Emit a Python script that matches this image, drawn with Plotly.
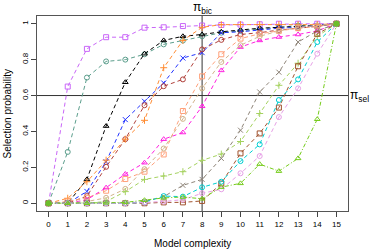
import plotly.graph_objects as go

complexity = list(range(16))
x_ticks = list(range(16))
y_ticks = [0, 0.2, 0.4, 0.6, 0.8, 1]
y_tick_text = ["0", "0.2", "0.4", "0.6", "0.8", "1"]

pi_sel = 0.6
pi_bic = 8

violet_sq = [0, 0.65, 0.86, 0.925, 0.925, 0.978, 0.98, 0.987, 0.99, 0.993, 0.995, 0.997, 1, 1, 1, 1]
teal_circ = [0, 0.286, 0.70, 0.79, 0.80, 0.83, 0.885, 0.906, 0.93, 0.95, 0.96, 0.97, 0.98, 0.99, 0.99, 1]
black_tri = [0, 0, 0.133, 0.43, 0.674, 0.833, 0.907, 0.93, 0.94, 0.955, 0.965, 0.975, 0.98, 0.985, 0.99, 1]
blue_x = [0, 0, 0.066, 0.231, 0.466, 0.568, 0.67, 0.809, 0.839, 0.95, 0.955, 0.965, 0.975, 0.98, 0.99, 1]
brown_circ = [0, 0, 0.04, 0.203, 0.357, 0.546, 0.652, 0.69, 0.857, 0.91, 0.94, 0.95, 0.965, 0.975, 0.985, 1]
orange_plus = [0, 0.028, 0.12, 0.24, 0.357, 0.462, 0.755, 0.907, 0.98, 0.995, 0.995, 0.995, 0.995, 0.995, 0.995, 1]
salmon_sq = [0, 0.01, 0.03, 0.07, 0.135, 0.176, 0.272, 0.514, 0.707, 0.83, 0.917, 0.944, 0.96, 0.975, 0.985, 1]
magenta_tri = [0, 0, 0.02, 0.087, 0.163, 0.226, 0.357, 0.394, 0.54, 0.74, 0.87, 0.907, 0.926, 0.94, 0.96, 1]
tan_circ = [0, 0, 0.01, 0.03, 0.08, 0.19, 0.305, 0.47, 0.64, 0.787, 0.88, 0.93, 0.96, 0.98, 0.99, 1]
yg_plus = [0, 0, 0, 0.01, 0.065, 0.133, 0.152, 0.176, 0.239, 0.274, 0.344, 0.50, 0.657, 0.78, 0.93, 1]
gray_x = [0, 0, 0, 0, 0, 0.01, 0.037, 0.1, 0.133, 0.25, 0.407, 0.62, 0.73, 0.898, 0.96, 1]
sienna_sq = [0, 0, 0, 0, 0, 0, 0.005, 0.005, 0.013, 0.11, 0.278, 0.389, 0.533, 0.763, 0.944, 1]
cyan_circ = [0, 0, 0, 0, 0, 0.005, 0.04, 0.037, 0.089, 0.12, 0.235, 0.328, 0.575, 0.69, 0.898, 1]
plum_circ = [0, 0, 0, 0, 0, 0.005, 0.01, 0.02, 0.056, 0.078, 0.167, 0.263, 0.48, 0.64, 0.833, 1]
green_tri = [0, 0, 0, 0.003, 0.005, 0.017, 0.03, 0.035, 0.025, 0.09, 0.111, 0.218, 0.179, 0.25, 0.468, 1]
end_x = [0, 15]
end_y = [0, 1]

series = [
    (violet_sq, "#C966F8", "square-open", "4px,3px"),
    (teal_circ, "#5B9E8C", "circle-open", "4px,3px"),
    (black_tri, "#000000", "triangle-up-open", "4px,3px"),
    (blue_x, "#2233FF", "x-thin-open", "4px,3px"),
    (brown_circ, "#B0403A", "circle-open", "4px,3px"),
    (orange_plus, "#FF8C33", "cross-thin-open", "4px,3px"),
    (salmon_sq, "#FFA07A", "square-open", "4px,3px"),
    (magenta_tri, "#FF1FE0", "triangle-up-open", "4px,3px"),
    (tan_circ, "#D2B48C", "circle-open", "4px,3px"),
    (yg_plus, "#A5D260", "cross-thin-open", "4px,3px"),
    (gray_x, "#8E8478", "x-thin-open", "4px,3px"),
    (sienna_sq, "#A0522D", "square-open", "4px,3px"),
    (cyan_circ, "#00CED1", "circle-open", "4px,3px"),
    (plum_circ, "#E6A0E6", "circle-open", "4px,3px"),
    (green_tri, "#76CC1C", "triangle-up-open", "4px,2px,1px,2px"),
]

fig = go.Figure()
for vals, col, sym, dash in series:
    fig.add_trace(go.Scatter(
        x=complexity, y=vals, mode="lines+markers",
        line=dict(color=col, width=1, dash=dash),
        marker=dict(symbol=sym, size=5, color=col, line=dict(color=col, width=1)),
        showlegend=False, hoverinfo="skip"))

fig.add_trace(go.Scatter(
    x=end_x, y=end_y, mode="markers",
    marker=dict(symbol="circle", size=6, color="#6DBE2A"),
    showlegend=False, hoverinfo="skip"))

fig.add_hline(y=pi_sel, line=dict(color="#333333", width=1), layer="below")
fig.add_vline(x=pi_bic, line=dict(color="#333333", width=1), layer="below")

fig.add_annotation(x=pi_bic, y=1, yref="paper", yanchor="bottom", xanchor="center",
                   text="π<sub>bic</sub>", showarrow=False, yshift=-2,
                   font=dict(size=12, color="#000000", family="Liberation Sans"))
fig.add_annotation(x=1, xref="paper", y=pi_sel, xanchor="left", yanchor="middle",
                   text="π<sub>sel</sub>", showarrow=False, xshift=0,
                   font=dict(size=12, color="#000000", family="Liberation Sans"))
fig.add_annotation(x=0.5, xref="paper", y=0, yref="paper", yanchor="middle",
                   xanchor="center", yshift=-32, text="Model complexity",
                   showarrow=False, font=dict(size=10, color="#000000"))
fig.add_annotation(x=0, xref="paper", y=0.5, yref="paper", xanchor="center",
                   yanchor="middle", xshift=-30, textangle=-90,
                   text="Selection probability", showarrow=False,
                   font=dict(size=10, color="#000000"))

fig.update_layout(
    width=374, height=249,
    margin=dict(l=37, r=26, t=16, b=38, autoexpand=False),
    paper_bgcolor="white", plot_bgcolor="white",
    font=dict(family="Liberation Sans", size=8, color="#000000"),
    xaxis=dict(range=[-0.6, 15.6], tickvals=x_ticks, ticks="outside", ticklen=5,
               tickcolor="#444", showgrid=False, zeroline=False, automargin=False,
               showline=True, linecolor="#555", linewidth=1, mirror=True,
               tickfont=dict(size=8)),
    yaxis=dict(range=[-0.043, 1.043], tickvals=y_ticks, ticktext=y_tick_text,
               ticks="outside", ticklen=5, tickcolor="#444", tickangle=-90,
               showgrid=False, zeroline=False, automargin=False,
               showline=True, linecolor="#555", linewidth=1, mirror=True,
               tickfont=dict(size=8)),
)

fig.write_html("out.html", config={"displayModeBar": False},
               post_script="document.body.style.margin='0';document.body.style.padding='0';")
